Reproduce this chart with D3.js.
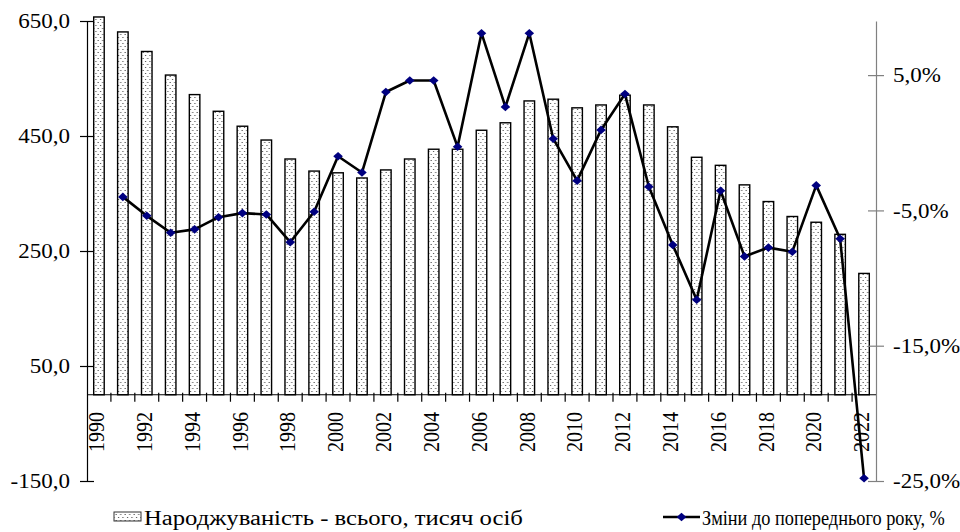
<!DOCTYPE html>
<html lang="uk">
<head>
<meta charset="UTF-8">
<title>Народжуваність</title>
<script src="https://d3js.org/d3.v7.min.js"></script>
<style>
    body { margin: 0; background: #fff; }
    svg text {
        font-family: "Liberation Serif", "Times New Roman", serif;
        font-size: 20px;
        fill: #000;
    }
</style>
</head>
<body>
<svg id="chart" width="960" height="532"></svg>
<script>
    // data
    const years = [1990, 1991, 1992, 1993, 1994, 1995, 1996, 1997, 1998, 1999,
        2000, 2001, 2002, 2003, 2004, 2005, 2006, 2007, 2008, 2009,
        2010, 2011, 2012, 2013, 2014, 2015, 2016, 2017, 2018, 2019,
        2020, 2021, 2022];
    const births = [657, 631, 597, 556, 522, 493, 467, 443, 410, 389,
        386, 377, 391, 410, 427, 427, 460, 473, 511, 514,
        499, 504, 521, 504, 466, 413, 399, 365, 336, 310,
        300, 279, 211];
    const change = [null, -4.0, -5.4, -6.65, -6.4, -5.5, -5.2, -5.3, -7.35, -5.1,
        -1.0, -2.2, 3.75, 4.6, 4.6, -0.3, 8.1, 2.65, 8.1, 0.3,
        -2.8, 0.95, 3.6, -3.25, -7.55, -11.6, -3.55, -8.4, -7.75, -8.05,
        -3.15, -7.1, -24.8];
    const leftTicks = [650, 450, 250, 50, -150];
    const rightTicks = [5, -5, -15, -25];
    const yearLabels = years.filter(y => y % 2 === 0);

    const barLegend = "Народжуваність - всього, тисяч осіб";
    const lineLegend = "Зміни до попереднього року, %";

    const sx = 1.15; // the picture is a little stretched sideways
    const locale = d3.formatLocale({decimal: ",", thousands: " ", grouping: [3], currency: ["", ""], minus: "-"});
    const fmt = locale.format(".1f");

    const svg = d3.select("#chart");

    const defs = svg.append("defs");
    const pat = defs.append("pattern")
        .attr("id", "dots")
        .attr("patternUnits", "userSpaceOnUse")
        .attr("width", 4.5)
        .attr("height", 6);
    pat.append("rect").attr("width", 4.5).attr("height", 6).attr("fill", "#fff");
    pat.append("rect").attr("x", 1).attr("y", 1).attr("width", 1).attr("height", 1).attr("fill", "#333");
    pat.append("rect").attr("x", 3.2).attr("y", 4).attr("width", 1).attr("height", 1).attr("fill", "#333");

    const plotL = 87, plotR = 876, plotT = 21, plotB = 481;

    const x = d3.scaleBand()
        .domain(years)
        .range([plotL, plotR])
        .paddingInner(0.56)
        .paddingOuter(0.28);
    const yL = d3.scaleLinear().domain([-150, 650]).range([plotB, plotT]);
    const yR = d3.scaleLinear().domain([-25, 9]).range([plotB, plotT]);

    // bars
    svg.append("g")
        .selectAll("rect")
        .data(years)
        .join("rect")
        .attr("x", d => x(d))
        .attr("width", x.bandwidth())
        .attr("y", (d, i) => yL(births[i]))
        .attr("height", (d, i) => yL(0) - yL(births[i]))
        .attr("fill", "url(#dots)")
        .attr("stroke", "#000")
        .attr("stroke-width", 1.4);

    // left axis
    const gl = svg.append("g")
        .attr("transform", `translate(${plotL},0)`)
        .call(d3.axisLeft(yL).tickValues(leftTicks).tickFormat(fmt).tickSizeOuter(0));
    gl.attr("font-family", null).attr("font-size", null);
    gl.select(".domain").attr("stroke", "#000").attr("stroke-width", 1.2);
    gl.selectAll(".tick line").attr("x1", 7).attr("x2", -7).attr("stroke", "#000").attr("stroke-width", 1.2);
    gl.selectAll(".tick text")
        .attr("x", -17 / sx)
        .attr("dy", "0.34em")
        .attr("transform", `scale(${sx},1)`);

    // right axis
    const gr = svg.append("g")
        .attr("transform", `translate(${plotR},0)`)
        .call(d3.axisRight(yR).tickValues(rightTicks).tickFormat(d => fmt(d) + "%").tickSizeOuter(0));
    gr.attr("font-family", null).attr("font-size", null);
    gr.select(".domain").attr("stroke", "#808080").attr("stroke-width", 1.2);
    gr.selectAll(".tick line").attr("x1", -8).attr("x2", 8).attr("stroke", "#808080").attr("stroke-width", 1.2);
    gr.selectAll(".tick text")
        .attr("x", 17 / sx)
        .attr("dy", "0.34em")
        .attr("transform", `scale(${sx},1)`);

    // category axis at zero
    const y0 = yL(0);
    const gx = svg.append("g");
    gx.append("line")
        .attr("x1", plotL).attr("x2", plotR)
        .attr("y1", y0).attr("y2", y0)
        .attr("stroke", "#000").attr("stroke-width", 1.2);
    gx.selectAll(".sep")
        .data(years.slice(1))
        .join("line")
        .attr("class", "sep")
        .attr("x1", d => x(d) - x.step() * 0.28)
        .attr("x2", d => x(d) - x.step() * 0.28)
        .attr("y1", y0 - 2)
        .attr("y2", y0 + 7)
        .attr("stroke", "#000").attr("stroke-width", 1.2);
    gx.selectAll("text")
        .data(yearLabels)
        .join("text")
        .attr("transform", d => `translate(${x(d) + x.bandwidth() / 2 - 0.5},412) scale(${sx},1) rotate(-90)`)
        .attr("text-anchor", "end")
        .attr("dy", 5)
        .text(d => d);

    // line of yearly change
    const pts = years.map((d, i) => ({year: d, v: change[i]})).filter(d => d.v !== null);
    const cx = d => x(d.year) + x.bandwidth() / 2;
    svg.append("path")
        .datum(pts)
        .attr("fill", "none")
        .attr("stroke", "#000")
        .attr("stroke-width", 2.6)
        .attr("stroke-linejoin", "round")
        .attr("d", d3.line().x(cx).y(d => yR(d.v)));

    const diamond = "M0,-4.3L4.8,0L0,4.3L-4.8,0Z";
    svg.append("g")
        .selectAll("path")
        .data(pts)
        .join("path")
        .attr("transform", d => `translate(${cx(d)},${yR(d.v)})`)
        .attr("d", diamond)
        .attr("fill", "#000080");

    // legend - each text squeezed/stretched to the width it has in the picture
    function fitText(g, str, x0, yb, w) {
        const t = g.append("text").text(str);
        const k = w / t.node().getComputedTextLength();
        t.attr("transform", `translate(${x0},${yb}) scale(${k},1)`);
    }
    const lg = svg.append("g");
    lg.append("rect")
        .attr("x", 114).attr("y", 512)
        .attr("width", 27).attr("height", 9)
        .attr("fill", "url(#dots)")
        .attr("stroke", "#333").attr("stroke-width", 1);
    fitText(lg, barLegend, 144, 524.5, 379);
    lg.append("line")
        .attr("x1", 663).attr("x2", 700)
        .attr("y1", 517).attr("y2", 517)
        .attr("stroke", "#000").attr("stroke-width", 2.6);
    lg.append("path")
        .attr("transform", "translate(681.5,517)")
        .attr("d", diamond)
        .attr("fill", "#000080");
    fitText(lg, lineLegend, 702, 524.5, 243);
</script>
</body>
</html>
